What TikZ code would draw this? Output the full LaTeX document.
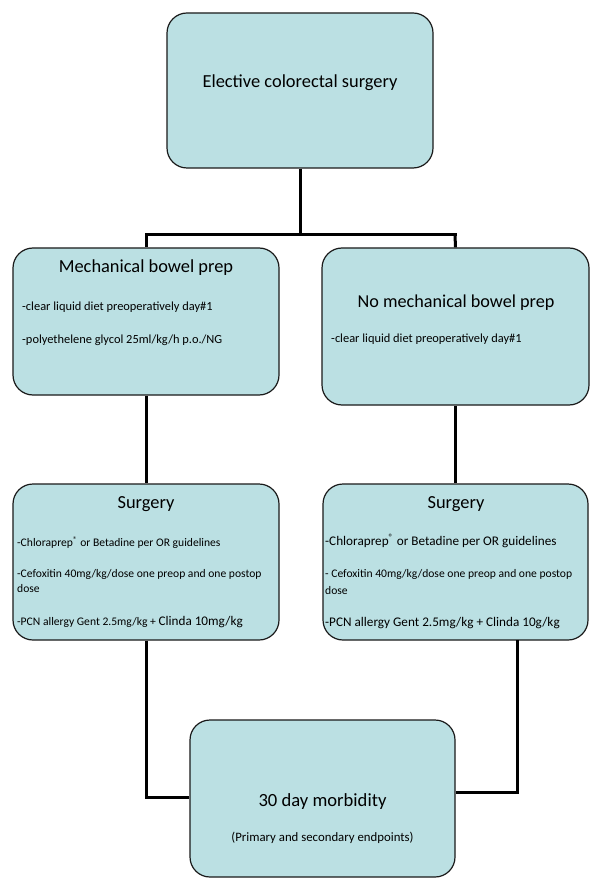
\documentclass[tikz,border=0pt]{standalone}
\usepackage{fontspec}
\setmainfont{Carlito}
\definecolor{boxfill}{HTML}{BBE0E3}
\definecolor{boxline}{HTML}{1A1A1A}
\begin{document}
\begin{tikzpicture}[x=1pt,y=-1pt,
  box/.style={draw=boxline,fill=boxfill,line width=1.2pt,rounded corners=20pt,inner sep=0pt},
  conn/.style={line width=3pt,black},
  ttl/.style={font=\fontsize{18.4}{22}\selectfont,inner sep=0pt,anchor=center},
  body/.style={font=\fontsize{12.4}{15}\selectfont,inner sep=0pt,anchor=west},
  sbody/.style={font=\fontsize{11.6}{14}\selectfont,inner sep=0pt,anchor=west},
  rbody/.style={font=\fontsize{13.2}{16}\selectfont,inner sep=0pt,anchor=west}]
\useasboundingbox (0,0) rectangle (602,890);
\fill[white] (0,0) rectangle (602,890);
% boxes
\node[box,minimum width=266pt,minimum height=155pt] (top) at (300,90.5) {};
\node[box,minimum width=266pt,minimum height=147pt] (mbp) at (146,321.5) {};
\node[box,minimum width=267pt,minimum height=157pt] (nmbp) at (455.5,326.5) {};
\node[box,minimum width=266pt,minimum height=156pt] (surgl) at (146,562) {};
\node[box,minimum width=265pt,minimum height=156pt] (surgr) at (455.5,562) {};
\node[box,minimum width=265pt,minimum height=157pt] (morb) at (322.5,798.5) {};
% connectors
\coordinate (split) at (300,235);
\draw[conn] (top.south) -- (split);
\draw[conn] (146,235) -- (mbp.north);
\draw[conn] (455,235) -- (nmbp.north);
\draw[conn] (145,235) -- (456.5,235);
\draw[conn] (mbp.south) -- (surgl.north);
\draw[conn] (nmbp.south) -- (surgr.north -| nmbp.south);
\draw[conn] (surgl.south) |- (morb.west |- 0,797);
\draw[conn] (517,640) |- (morb.east |- 0,792);
% texts
\node[ttl] (t1) at (300,83) {Elective colorectal surgery};
\node[ttl] (t2) at (146,268) {Mechanical bowel prep};
\node[body] (t3) at (22,307) {-clear liquid diet preoperatively day\#1};
\node[body] (t4) at (22,340) {-polyethelene glycol 25ml/kg/h p.o./NG};
\node[ttl,font=\fontsize{18.2}{22}\selectfont] (t5) at (456,303) {No mechanical bowel prep};
\node[body] (t6) at (331,339) {-clear liquid diet preoperatively day\#1};
\node[ttl] (t7) at (146,504) {Surgery};
\node[sbody] (t8) at (17,543) {-Chloraprep\textsuperscript{®} or Betadine per OR guidelines};
\node[sbody] (t9) at (17,574) {-Cefoxitin 40mg/kg/dose one preop and one postop};
\node[sbody] (t10) at (17,589) {dose};
\node[sbody] (t11) at (17,622) {-PCN allergy Gent 2.5mg/kg + {\fontsize{13.2}{16}\selectfont Clinda 10mg/kg}};
\node[ttl] (t12) at (456,504) {Surgery};
\node[rbody] (t13) at (325,541) {-Chloraprep\textsuperscript{®} or Betadine per OR guidelines};
\node[sbody] (t14) at (325,574) {- Cefoxitin 40mg/kg/dose one preop and one postop};
\node[sbody] (t15) at (325,591) {dose};
\node[rbody] (t16) at (325,623) {-PCN allergy Gent 2.5mg/kg + Clinda 10g/kg};
\node[ttl,font=\fontsize{18.6}{22}\selectfont] (t17) at (322.5,802) {30 day morbidity};
\node[ttl,font=\fontsize{12.8}{15}\selectfont] (t18) at (322.5,838) {(Primary and secondary endpoints)};
\end{tikzpicture}
\end{document}
